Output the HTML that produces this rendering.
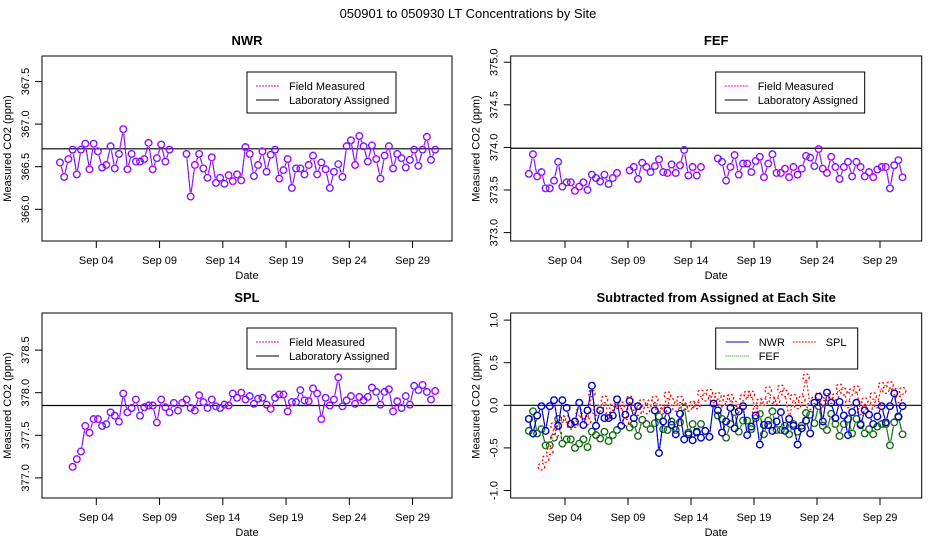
<!DOCTYPE html>
<html><head><meta charset="utf-8"><style>
body{margin:0;background:#fff}
svg text{font-family:"Liberation Sans",sans-serif}
</style></head><body>
<svg id="c" width="936" height="540" xmlns="http://www.w3.org/2000/svg">
<text x="468" y="18" font-size="13" text-anchor="middle">050901  to  050930 LT Concentrations by Site</text>
</svg>
<script>
const days=[1.13,1.46,1.79,2.13,2.46,2.79,3.13,3.46,3.79,4.13,4.46,4.79,5.13,5.46,5.79,6.13,6.46,6.79,7.13,7.46,7.79,8.13,8.46,8.79,9.13,9.46,9.79,10.13,10.46,10.79,11.13,11.46,11.79,12.13,12.46,12.79,13.13,13.46,13.79,14.13,14.46,14.79,15.13,15.46,15.79,16.13,16.46,16.79,17.13,17.46,17.79,18.13,18.46,18.79,19.13,19.46,19.79,20.13,20.46,20.79,21.13,21.46,21.79,22.13,22.46,22.79,23.13,23.46,23.79,24.13,24.46,24.79,25.13,25.46,25.79,26.13,26.46,26.79,27.13,27.46,27.79,28.13,28.46,28.79,29.13,29.46,29.79,30.13,30.46,30.79];
const nwr=[366.55,366.38,366.59,366.70,366.41,366.70,366.77,366.47,366.77,366.68,366.49,366.52,366.74,366.48,366.65,366.94,366.47,366.65,366.56,366.56,366.59,366.78,366.47,366.60,366.76,366.56,366.70,null,null,null,366.65,366.15,366.52,366.65,366.48,366.37,366.61,366.31,366.37,366.30,366.40,366.33,366.41,366.34,366.73,366.65,366.39,366.52,366.68,366.44,366.64,366.70,366.36,366.46,366.59,366.25,366.48,366.48,366.41,366.52,366.63,366.41,366.55,366.47,366.25,366.44,366.53,366.38,366.74,366.81,366.52,366.86,366.74,366.56,366.75,366.59,366.36,366.63,366.74,366.48,366.65,366.60,366.49,366.58,366.70,366.51,366.70,366.85,366.58,366.70];
const fef=[373.69,373.92,373.66,373.71,373.52,373.52,373.61,373.83,373.54,373.59,373.59,373.49,373.54,373.59,373.50,373.68,373.64,373.60,373.68,373.57,373.64,373.70,null,null,373.73,373.77,373.63,373.82,373.77,373.71,373.78,373.86,373.71,373.70,373.80,373.70,373.79,373.97,373.67,373.77,373.67,373.77,null,null,null,373.87,373.83,373.61,373.77,373.91,373.68,373.81,373.81,373.71,373.84,373.89,373.65,373.81,373.92,373.70,373.70,373.75,373.65,373.77,373.68,373.75,373.90,373.88,373.78,373.98,373.75,373.70,373.89,373.77,373.63,373.77,373.83,373.66,373.83,373.77,373.66,373.71,373.65,373.74,373.77,373.77,373.52,373.79,373.85,373.65];
const spl=[null,null,null,377.13,377.22,377.31,377.61,377.53,377.69,377.69,377.61,377.63,377.77,377.73,377.66,377.99,377.77,377.82,377.92,377.73,377.83,377.85,377.85,377.65,377.92,377.83,377.77,377.88,377.79,377.88,377.92,377.82,377.79,377.97,377.89,377.82,377.92,377.84,377.82,377.86,377.85,377.99,377.94,378.00,377.92,377.96,377.87,377.93,377.94,377.86,377.81,377.94,377.98,377.98,377.78,377.89,377.89,378.03,377.91,377.90,378.05,377.99,377.69,377.94,377.85,377.92,378.18,377.84,377.91,377.96,377.87,377.95,377.91,377.95,378.06,378.01,377.86,378.01,378.04,377.78,377.90,377.82,377.96,377.86,378.08,378.03,378.09,378.01,377.92,378.02];
const assigned={nwr:366.71,fef:373.99,spl:377.85};
const xTickDays=[4,9,14,19,24,29];
const xTickLabels=["Sep 04","Sep 09","Sep 14","Sep 19","Sep 24","Sep 29"];
const ticksNWR=[366.0,366.5,367.0,367.5];
const ticksFEF=[373.0,373.5,374.0,374.5,375.0];
const ticksSPL=[377.0,377.5,378.0,378.5];
const ticksDiff=[-1.0,-0.5,0.0,0.5,1.0];

const svg=document.getElementById('c');
const NS='http://www.w3.org/2000/svg';
function mk(tag,attrs,parent){const e=document.createElementNS(NS,tag);for(const k in attrs)e.setAttribute(k,attrs[k]);(parent||svg).appendChild(e);return e;}

function panel(o){
  const g=mk('g',{});
  
  
  const xs=d=>o.xTick+(d-4)*o.xStep;
  const ys=v=>o.yRef-(v-o.vRef)*85.2;
  const box=mk('rect',{x:o.x0,y:o.y0,width:o.x1-o.x0,height:o.y1-o.y0,fill:'none',stroke:'#000','stroke-width':1},g);
  
  
  const t=mk('text',{x:(o.x0+o.x1)/2,y:o.y0-11,'font-size':13,'font-weight':'bold','text-anchor':'middle'},g);
  t.textContent=o.title;
  
  
  xTickDays.forEach((d,i)=>{
    const x=xs(d);
    mk('line',{x1:x,x2:x,y1:o.y1,y2:o.y1+7,stroke:'#000'},g);
    const l=mk('text',{x:x,y:o.y1+23,'font-size':11,'text-anchor':'middle'},g);
    l.textContent=xTickLabels[i];
    
    
  });
  const xl=mk('text',{x:(o.x0+o.x1)/2,y:o.y1+38,'font-size':11,'text-anchor':'middle'},g);
  xl.textContent='Date';
  
  
  o.ticks.forEach(v=>{
    const y=ys(v);
    mk('line',{x1:o.x0-7,x2:o.x0,y1:y,y2:y,stroke:'#000'},g);
    const l=mk('text',{x:o.x0-13,y:y,'font-size':11,'text-anchor':'middle',transform:`rotate(-90 ${o.x0-13} ${y})`},g);
    l.textContent=v.toFixed(1);
    
    
  });
  const yl=mk('text',{x:o.x0-31,y:(o.y0+o.y1)/2,'font-size':11,'text-anchor':'middle',transform:`rotate(-90 ${o.x0-31} ${(o.y0+o.y1)/2})`},g);
  yl.textContent=o.yTitle;
  
  
  const hl=mk('line',{x1:o.x0,x2:o.x1,y1:ys(o.hline),y2:ys(o.hline),stroke:'#000','stroke-width':1.2},g);
  
  
  o.series.forEach(s=>{
    const sg=mk('g',{},g);
    
    
    const pts=days.map((d,i)=>s.vals[i]==null?null:[xs(d),ys(s.vals[i])]);
    for(let i=0;i<pts.length-1;i++){
      const a=pts[i],b=pts[i+1];if(!a||!b)continue;
      const dx=b[0]-a[0],dy=b[1]-a[1],L=Math.hypot(dx,dy);if(L<9)continue;
      const ux=dx/L,uy=dy/L,r=4.3;
      mk('line',{x1:a[0]+ux*r,y1:a[1]+uy*r,x2:b[0]-ux*r,y2:b[1]-uy*r,stroke:s.c2,'stroke-width':1.1},sg);
      mk('line',{x1:a[0]+ux*r,y1:a[1]+uy*r,x2:b[0]-ux*r,y2:b[1]-uy*r,stroke:s.c1,'stroke-width':1.1,'stroke-dasharray':'2,2'},sg);
    }
    pts.forEach(p=>{if(!p)return;
      const c=mk('circle',{cx:p[0],cy:p[1],r:3.3,fill:'none',stroke:s.c2,'stroke-width':1.3},sg);
      
      
      mk('circle',{cx:p[0],cy:p[1],r:3.3,fill:'none',stroke:s.c1,'stroke-width':1.3,'stroke-dasharray':'2,2'},sg);
    });
  });
  // legend
  const lg=mk('g',{},g);
  
  
  const lx=o.x0+o.legendDx,ly=o.y0+o.legendDy;
  mk('rect',{x:lx,y:ly,width:o.legendW,height:41,fill:'#fff',stroke:'#000'},lg);
  o.legend.forEach(e=>{
    mk('line',{x1:lx+e.dx,x2:lx+e.dx+23,y1:ly+e.dy,y2:ly+e.dy,stroke:e.c,'stroke-width':1,'stroke-dasharray':e.dash||''},lg);
    const tx=mk('text',{x:lx+e.dx+33,y:ly+e.dy+4,'font-size':11},lg);
    tx.textContent=e.label;
    
    
  });
}
const stdLegend=[{dx:9,dy:14,c:'#e000e0',dash:'2,1',label:'Field Measured'},{dx:9,dy:28,c:'#000',label:'Laboratory Assigned'}];
const L={x0:42,x1:452,xTick:96.3,xStep:12.65};
const R={x0:510.7,x1:921.7,xTick:565,xStep:12.6};
panel({...L,name:'nwr-panel',title:'NWR',y0:56,y1:241,yRef:166.7,vRef:366.5,ticks:ticksNWR,hline:assigned.nwr,yTitle:'Measured CO2 (ppm)',
  series:[{name:'nwr-series',vals:nwr,c1:'#ff00ff',c2:'#2020ff'}],legendDx:205,legendDy:16,legendW:149,legend:stdLegend});
panel({...R,name:'fef-panel',title:'FEF',y0:56,y1:241,yRef:190,vRef:373.5,ticks:ticksFEF,hline:assigned.fef,yTitle:'Measured CO2 (ppm)',
  series:[{name:'fef-series',vals:fef,c1:'#ff00ff',c2:'#2020ff'}],legendDx:205,legendDy:16,legendW:149,legend:stdLegend});
panel({...L,name:'spl-panel',title:'SPL',y0:313,y1:498,yRef:435.3,vRef:377.5,ticks:ticksSPL,hline:assigned.spl,yTitle:'Measured CO2 (ppm)',
  series:[{name:'spl-series',vals:spl,c1:'#ff00ff',c2:'#2020ff'}],legendDx:205,legendDy:15,legendW:149,legend:stdLegend});
const dN=nwr.map(v=>v==null?null:v-assigned.nwr);
const dF=fef.map(v=>v==null?null:v-assigned.fef);
const dS=spl.map(v=>v==null?null:v-assigned.spl);
panel({...R,name:'difference-panel',title:'Subtracted from Assigned at Each Site',y0:313,y1:498,yRef:405.3,vRef:0,ticks:ticksDiff,hline:0,yTitle:'Measured CO2 (ppm)',
  series:[{name:'fef-diff-series',vals:dF,c1:'#00b000',c2:'#303030'},{name:'spl-diff-series',vals:dS,c1:'#ff0000',c2:'#ffffff'},{name:'nwr-diff-series',vals:dN,c1:'#0000cc',c2:'#0000cc'}],
  legendDx:205,legendDy:15,legendW:142,legend:[{dx:10,dy:14,c:'#0000cc',label:'NWR'},{dx:77,dy:14,c:'#ff0000',dash:'2,1',label:'SPL'},{dx:10,dy:28,c:'#00a000',dash:'1,1',label:'FEF'}]});
</script>
</body></html>
